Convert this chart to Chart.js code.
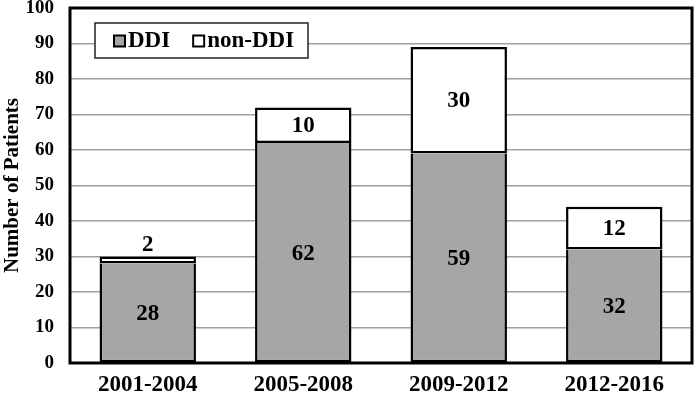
<!DOCTYPE html>
<html>
<head>
<meta charset="utf-8">
<script src="https://cdn.jsdelivr.net/npm/chart.js@4.4.1/dist/chart.umd.min.js"></script>
<style>
  html, body { margin: 0; padding: 0; background: #fff; }
  #wrap { width: 696px; height: 400px; }
</style>
</head>
<body>
<div id="wrap"><canvas id="chart" width="696" height="400"></canvas></div>
<script>
// data
const periods = ['2001-2004', '2005-2008', '2009-2012', '2012-2016'];
const ddi = [28, 62, 59, 32];
const nonDdi = [2, 10, 30, 12];
const seriesNames = ['DDI', 'non-DDI'];
const yTicks = [0, 10, 20, 30, 40, 50, 60, 70, 80, 90, 100];

const FONT = '"Liberation Serif", "Times New Roman", serif';
const GRAY = '#a6a6a6';

// values inside the bar segments (small ones go above the bar)
const segmentLabels = {
    id: 'segmentLabels',
    afterDatasetsDraw(chart) {
        const ctx = chart.ctx;
        ctx.save();
        ctx.font = 'bold 23px ' + FONT;
        ctx.fillStyle = '#000';
        ctx.textAlign = 'center';
        ctx.textBaseline = 'middle';
        chart.data.datasets.forEach((ds, i) => {
            const meta = chart.getDatasetMeta(i);
            meta.data.forEach((bar, j) => {
                const h = Math.abs(bar.base - bar.y);
                let y = (bar.y + bar.base) / 2;
                if (h < 22) y = bar.y - 12;
                ctx.fillText(String(ds.data[j]), bar.x, y + 1);
            });
        });
        ctx.restore();
    }
};

// black frame around the plot and a boxed legend inside it
const frameAndLegend = {
    id: 'frameAndLegend',
    afterDraw(chart) {
        const ctx = chart.ctx;
        const a = chart.chartArea;
        ctx.save();
        ctx.lineWidth = 3;
        ctx.strokeStyle = '#000';
        ctx.strokeRect(a.left, a.top, a.right - a.left, a.bottom - a.top);

        // legend box
        const bx = a.left + 25, by = a.top + 15, bw = 213, bh = 35;
        ctx.fillStyle = '#fff';
        ctx.fillRect(bx, by, bw, bh);
        ctx.lineWidth = 1.5;
        ctx.strokeStyle = '#222';
        ctx.strokeRect(bx, by, bw, bh);

        ctx.font = 'bold 23px ' + FONT;
        ctx.textBaseline = 'middle';
        ctx.textAlign = 'left';
        let x = bx + 19;
        const cy = by + bh / 2 + 1;
        chart.data.datasets.forEach((ds, i) => {
            ctx.fillStyle = ds.backgroundColor;
            ctx.fillRect(x, cy - 6, 11, 11);
            ctx.lineWidth = 2;
            ctx.strokeStyle = '#000';
            ctx.strokeRect(x, cy - 6, 11, 11);
            ctx.fillStyle = '#000';
            ctx.fillText(seriesNames[i], x + 14, cy);
            x += 14 + ctx.measureText(seriesNames[i]).width + 23;
        });
        ctx.restore();
    }
};

new Chart(document.getElementById('chart'), {
    type: 'bar',
    data: {
        labels: periods,
        datasets: [
            {
                label: seriesNames[0],
                data: ddi,
                backgroundColor: GRAY,
                borderColor: '#000',
                borderWidth: 2.5,
                borderSkipped: 'top',
                barPercentage: 0.62,
                categoryPercentage: 1
            },
            {
                label: seriesNames[1],
                data: nonDdi,
                backgroundColor: '#ffffff',
                borderColor: '#000',
                borderWidth: 2.5,
                borderSkipped: false,
                barPercentage: 0.62,
                categoryPercentage: 1
            }
        ]
    },
    options: {
        responsive: false,
        animation: false,
        layout: { padding: { top: 8, right: 4, left: 0, bottom: 0 } },
        plugins: {
            legend: { display: false },
            tooltip: { enabled: false }
        },
        scales: {
            x: {
                stacked: true,
                grid: { display: false, drawTicks: false },
                border: { display: false },
                ticks: {
                    color: '#000',
                    font: { family: FONT, size: 23, weight: 'bold' },
                    padding: 8
                },
                afterFit(scale) {
                    scale.height = 37;
                    scale.paddingLeft = 0;
                    scale.paddingRight = 0;
                }
            },
            y: {
                stacked: true,
                min: 0,
                max: 100,
                afterBuildTicks(scale) {
                    scale.ticks = yTicks.map(v => ({ value: v }));
                },
                grid: { color: '#a0a0a0', lineWidth: 1.5, drawTicks: false },
                border: { display: false },
                ticks: {
                    color: '#000',
                    font: { family: FONT, size: 19, weight: 'bold' },
                    padding: 16
                },
                title: {
                    display: true,
                    text: 'Number of Patients',
                    color: '#000',
                    font: { family: FONT, size: 21, weight: 'bold' },
                    padding: 0
                },
                afterFit(scale) {
                    scale.width = 70;
                    scale.paddingTop = 0;
                    scale.paddingBottom = 0;
                }
            }
        }
    },
    plugins: [segmentLabels, frameAndLegend]
});
</script>
</body>
</html>
